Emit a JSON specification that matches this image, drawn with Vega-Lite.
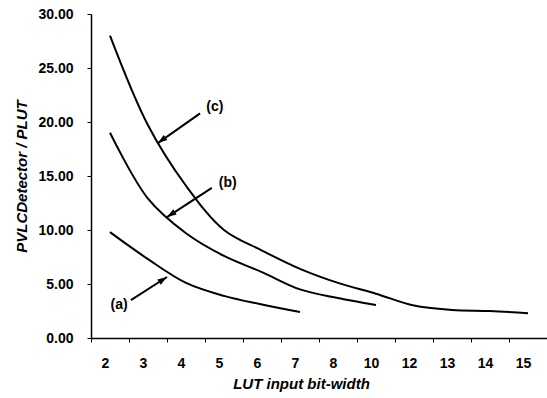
{
  "$schema": "https://vega.github.io/schema/vega-lite/v6.json",
  "width": 456,
  "height": 324,
  "autosize": "none",
  "padding": {"left": 91, "top": 14, "right": 0, "bottom": 60},
  "background": "white",
  "config": {"view": {"stroke": null}, "font": "Liberation Sans"},
  "datasets": {
    "curves": [
      {"curve": "a", "bits": 2, "ratio": 9.8},
      {"curve": "a", "bits": 3, "ratio": 7.3},
      {"curve": "a", "bits": 4, "ratio": 5.1},
      {"curve": "a", "bits": 5, "ratio": 3.9},
      {"curve": "a", "bits": 6, "ratio": 3.1},
      {"curve": "a", "bits": 7, "ratio": 2.4},
      {"curve": "b", "bits": 2, "ratio": 19.0},
      {"curve": "b", "bits": 3, "ratio": 12.9},
      {"curve": "b", "bits": 4, "ratio": 9.7},
      {"curve": "b", "bits": 5, "ratio": 7.6},
      {"curve": "b", "bits": 6, "ratio": 6.1},
      {"curve": "b", "bits": 7, "ratio": 4.5},
      {"curve": "b", "bits": 8, "ratio": 3.7},
      {"curve": "b", "bits": 10, "ratio": 3.05},
      {"curve": "c", "bits": 2, "ratio": 28.0},
      {"curve": "c", "bits": 3, "ratio": 19.7},
      {"curve": "c", "bits": 4, "ratio": 14.1},
      {"curve": "c", "bits": 5, "ratio": 10.0},
      {"curve": "c", "bits": 6, "ratio": 8.1},
      {"curve": "c", "bits": 7, "ratio": 6.4},
      {"curve": "c", "bits": 8, "ratio": 5.1},
      {"curve": "c", "bits": 10, "ratio": 4.1},
      {"curve": "c", "bits": 12, "ratio": 3.0},
      {"curve": "c", "bits": 13, "ratio": 2.6},
      {"curve": "c", "bits": 14, "ratio": 2.5},
      {"curve": "c", "bits": 15, "ratio": 2.3}
    ],
    "arrows": [
      {"curve": "a", "x": 0.55, "y": 3.5, "x2": 1.5, "y2": 5.65},
      {"curve": "b", "x": 2.68, "y": 13.9, "x2": 1.5, "y2": 11.2},
      {"curve": "c", "x": 2.37, "y": 20.8, "x2": 1.26, "y2": 18.05}
    ],
    "labels": [
      {"text": "(a)", "x": 0.24, "y": 3.05},
      {"text": "(b)", "x": 3.1, "y": 14.35},
      {"text": "(c)", "x": 2.76, "y": 21.4}
    ]
  },
  "layer": [
    {
      "data": {"name": "curves"},
      "mark": {"type": "line", "interpolate": "catmull-rom", "color": "black", "strokeWidth": 2},
      "encoding": {
        "x": {
          "field": "bits", "type": "ordinal",
          "scale": {"type": "band", "paddingInner": 0, "paddingOuter": 0},
          "axis": {
            "title": "LUT input bit-width",
            "labelAngle": 0,
            "labelFontSize": 14, "labelFontWeight": "bold", "labelColor": "black",
            "labelOffset": -5, "labelPadding": 14,
            "tickBand": "extent", "tickSize": 4, "tickColor": "black",
            "domainColor": "black", "domainWidth": 1.5,
            "titleFontSize": 15, "titleFontWeight": "bold", "titleFontStyle": "italic",
            "titleColor": "black", "titlePadding": 6, "titleX": 210
          }
        },
        "y": {
          "field": "ratio", "type": "quantitative",
          "scale": {"domain": [0, 30]},
          "axis": {
            "values": [0, 5, 10, 15, 20, 25, 30],
            "format": ".2f",
            "grid": false,
            "title": "PVLCDetector / PLUT",
            "labelFontSize": 14, "labelFontWeight": "bold", "labelColor": "black",
            "labelPadding": 14, "tickSize": 4, "tickColor": "black",
            "domainColor": "black", "domainWidth": 1.5,
            "titleFontSize": 15, "titleFontWeight": "bold", "titleFontStyle": "italic",
            "titleColor": "black", "titlePadding": 8
          }
        },
        "detail": {"field": "curve"}
      }
    },
    {
      "data": {"name": "arrows"},
      "mark": {"type": "rule", "color": "black", "strokeWidth": 2},
      "encoding": {
        "x": {"field": "x", "type": "quantitative", "scale": {"domain": [-0.5, 11.5], "nice": false, "zero": false}, "axis": null},
        "x2": {"field": "x2"},
        "y": {"field": "y", "type": "quantitative"},
        "y2": {"field": "y2"}
      }
    },
    {
      "data": {"name": "arrows"},
      "transform": [{"filter": "datum.curve === 'a'"}],
      "mark": {"type": "point", "shape": "M0,0L-0.4,1.2L0.4,1.2Z", "filled": true, "color": "black", "opacity": 1, "size": 250, "angle": 57},
      "encoding": {
        "x": {"field": "x2", "type": "quantitative", "scale": {"domain": [-0.5, 11.5], "nice": false, "zero": false}, "axis": null},
        "y": {"field": "y2", "type": "quantitative"}
      }
    },
    {
      "data": {"name": "arrows"},
      "transform": [{"filter": "datum.curve === 'b'"}],
      "mark": {"type": "point", "shape": "M0,0L-0.4,1.2L0.4,1.2Z", "filled": true, "color": "black", "opacity": 1, "size": 250, "angle": 237},
      "encoding": {
        "x": {"field": "x2", "type": "quantitative", "scale": {"domain": [-0.5, 11.5], "nice": false, "zero": false}, "axis": null},
        "y": {"field": "y2", "type": "quantitative"}
      }
    },
    {
      "data": {"name": "arrows"},
      "transform": [{"filter": "datum.curve === 'c'"}],
      "mark": {"type": "point", "shape": "M0,0L-0.4,1.2L0.4,1.2Z", "filled": true, "color": "black", "opacity": 1, "size": 250, "angle": 234},
      "encoding": {
        "x": {"field": "x2", "type": "quantitative", "scale": {"domain": [-0.5, 11.5], "nice": false, "zero": false}, "axis": null},
        "y": {"field": "y2", "type": "quantitative"}
      }
    },
    {
      "data": {"name": "labels"},
      "mark": {"type": "text", "fontSize": 14, "fontWeight": "bold", "color": "black"},
      "encoding": {
        "x": {"field": "x", "type": "quantitative", "scale": {"domain": [-0.5, 11.5], "nice": false, "zero": false}, "axis": null},
        "y": {"field": "y", "type": "quantitative"},
        "text": {"field": "text"}
      }
    }
  ],
  "resolve": {"scale": {"x": "independent"}}
}
